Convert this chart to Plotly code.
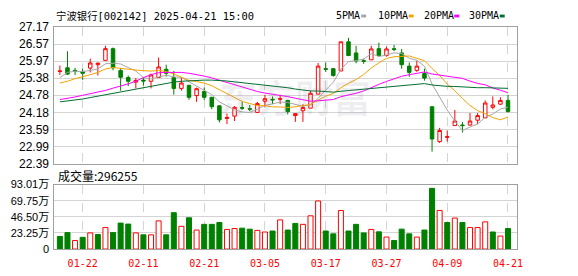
import numpy as np
import pandas as pd
import plotly.graph_objects as go

# ---------------- data ----------------
dates = [
    "2025-01-17", "2025-01-20", "2025-01-21", "2025-01-22", "2025-01-23", "2025-01-24", "2025-01-27",
    "2025-02-05", "2025-02-06", "2025-02-07", "2025-02-10", "2025-02-11",
    "2025-02-12", "2025-02-13", "2025-02-14", "2025-02-17", "2025-02-18", "2025-02-19", "2025-02-20", "2025-02-21",
    "2025-02-24", "2025-02-25", "2025-02-26", "2025-02-27", "2025-02-28",
    "2025-03-03", "2025-03-04", "2025-03-05",
    "2025-03-06", "2025-03-07", "2025-03-10", "2025-03-11", "2025-03-12", "2025-03-13", "2025-03-14", "2025-03-17",
    "2025-03-18", "2025-03-19", "2025-03-20", "2025-03-21", "2025-03-24", "2025-03-25", "2025-03-26", "2025-03-27",
    "2025-03-28", "2025-03-31", "2025-04-01", "2025-04-02", "2025-04-03",
    "2025-04-07", "2025-04-08", "2025-04-09",
    "2025-04-10", "2025-04-11", "2025-04-14", "2025-04-15", "2025-04-16", "2025-04-17", "2025-04-18", "2025-04-21",
]

opens = [25.61, 25.74, 25.65, 25.60, 25.73, 25.85, 26.00, 26.41, 25.65, 25.40,
         25.24, 25.31, 25.27, 25.40, 25.69, 25.40, 25.02, 25.13, 24.77, 24.91,
         24.71, 24.41, 23.97, 24.05, 24.35, 24.31, 24.18, 24.57, 24.64, 24.64,
         24.60, 24.07, 24.24, 24.33, 24.82, 25.71, 25.71, 25.63, 26.65, 26.26,
         25.99, 26.02, 26.41, 26.17, 26.41, 26.26, 25.80, 25.65, 25.54, 24.38,
         23.16, 23.31, 23.72, 23.74, 23.74, 23.91, 23.99, 24.36, 24.47, 24.60]
highs = [25.82, 26.32, 25.74, 25.71, 26.06, 25.93, 26.51, 26.45, 25.73, 25.47,
         25.38, 25.40, 25.54, 26.10, 25.85, 25.63, 25.38, 25.14, 25.05, 25.05,
         24.72, 24.44, 24.14, 24.40, 24.55, 24.44, 24.55, 24.80, 24.74, 24.80,
         24.62, 24.14, 24.47, 24.94, 25.91, 25.93, 25.73, 26.65, 26.79, 26.51,
         26.06, 26.51, 26.62, 26.48, 26.54, 26.40, 25.93, 25.99, 25.71, 24.38,
         23.64, 23.55, 24.27, 23.85, 24.16, 24.16, 24.60, 24.74, 24.71, 24.80]
lows = [25.49, 25.49, 25.49, 25.32, 25.58, 25.47, 26.00, 25.65, 24.94, 25.10,
        25.02, 25.12, 25.02, 25.38, 25.43, 24.80, 24.94, 24.62, 24.55, 24.62,
        24.29, 23.83, 23.77, 23.88, 24.27, 24.22, 24.16, 24.38, 24.47, 24.47,
        24.11, 23.85, 23.85, 24.33, 24.82, 25.60, 25.43, 25.63, 26.15, 25.90,
        25.88, 26.02, 26.13, 26.13, 26.32, 25.71, 25.43, 25.60, 25.29, 22.81,
        23.11, 23.16, 23.72, 23.48, 23.72, 23.77, 23.99, 24.29, 24.44, 24.18]
closes = [25.63, 25.52, 25.63, 25.55, 25.91, 25.90, 26.41, 25.74, 25.41, 25.27,
          25.30, 25.28, 25.49, 25.77, 25.55, 25.02, 25.21, 24.71, 25.01, 24.71,
          24.38, 23.92, 24.00, 24.36, 24.33, 24.29, 24.49, 24.66, 24.62, 24.66,
          24.21, 24.14, 24.35, 24.85, 25.80, 25.69, 25.47, 26.65, 26.17, 25.98,
          25.97, 26.40, 26.17, 26.40, 26.38, 25.85, 25.58, 25.80, 25.38, 23.25,
          23.55, 23.33, 23.88, 23.72, 23.88, 24.07, 24.51, 24.44, 24.60, 24.21]

# volume in 万 (10k shares); last value is the stated 296255
vol_wan = [18.2, 23.7, 12.3, 16.9, 23.3, 21.0, 31.0, 23.7, 37.4, 36.0,
           23.3, 20.5, 20.5, 40.6, 20.5, 52.4, 32.8, 45.1, 27.4, 35.6,
           35.6, 38.3, 28.3, 29.6, 30.1, 28.7, 26.9, 24.6, 26.0, 42.0,
           27.4, 36.9, 35.6, 47.9, 69.3, 26.0, 21.9, 55.6, 26.0, 35.6,
           23.3, 28.3, 24.8, 17.3, 12.3, 28.7, 21.9, 17.3, 27.4, 87.5,
           55.6, 38.3, 44.7, 38.3, 31.0, 31.0, 39.2, 24.6, 18.7, 29.6255]
# 1 = red (rise vs previous close), 0 = green
vol_rise = [0, 0, 1, 0, 1, 0, 1, 0, 0, 0,
            1, 0, 1, 1, 0, 0, 1, 0, 1, 0,
            0, 0, 1, 1, 0, 0, 1, 1, 0, 1,
            0, 0, 1, 1, 1, 0, 0, 1, 0, 0,
            0, 1, 0, 1, 0, 0, 0, 1, 0, 0,
            1, 0, 1, 0, 1, 1, 1, 0, 1, 0]

# moving-average values before the window is full
ma5_head = [25.40, 25.58, 25.62, 25.61]
ma10_head = [25.21, 25.27, 25.36, 25.42, 25.50, 25.58, 25.70, 25.75, 25.73]
ma20_head = [24.63, 24.67, 24.72, 24.78, 24.83, 24.88, 24.95, 25.03, 25.10, 25.18,
             25.27, 25.40, 25.50, 25.57, 25.58, 25.58, 25.58, 25.55, 25.51]
ma30_head = [24.55, 24.58, 24.61, 24.65, 24.70, 24.75, 24.80, 24.85, 24.90, 24.95,
             25.00, 25.06, 25.11, 25.16, 25.20, 25.24, 25.27, 25.29, 25.30, 25.31,
             25.31, 25.30, 25.28, 25.25, 25.22, 25.19, 25.16, 25.13, 25.11]

price_ticks = ["22.39", "22.99", "23.59", "24.18", "24.78", "25.38", "25.97", "26.57", "27.17"]
price_min, price_max = 22.39, 27.17
vol_ticks = ["0", "23.25万", "46.50万", "69.75万", "93.01万"]
vol_max = 930100
x_tick_dates = ["2025-01-22", "2025-02-11", "2025-02-21", "2025-03-05",
                "2025-03-17", "2025-03-27", "2025-04-09", "2025-04-21"]
x_tick_text = [d[5:] for d in x_tick_dates]

title_text = "宁波银行[002142] 2025-04-21 15:00"
vol_title = "成交量:296255"
ma_names = ["5PMA", "10PMA", "20PMA", "30PMA"]

# ---------------- derived ----------------
cs = pd.Series(closes)


def moving_avg(n, head):
    m = cs.rolling(n).mean().tolist()
    m[:len(head)] = head
    return m


mas = [moving_avg(5, ma5_head), moving_avg(10, ma10_head),
       moving_avg(20, ma20_head), moving_avg(30, ma30_head)]
ma_colors = ["#A6A6A6", "#F5A300", "#FF00FF", "#006F2E"]

volumes = [v * 10000 for v in vol_wan]
RED, GREEN = "#FF0000", "#008000"
vol_fill = ["#FFFFFF" if r else GREEN for r in vol_rise]
vol_line = [RED if r else GREEN for r in vol_rise]

# ---------------- figure ----------------
W, H = 578, 276
L, R = 55, 522
PT, PB = 21, 165
VT, VB = 187, 255


def px_x(x):
    return x / W


def px_y(y):
    return 1 - y / H


fig = go.Figure()
fig.add_trace(go.Candlestick(
    x=dates, open=opens, high=highs, low=lows, close=closes,
    increasing=dict(line=dict(color=RED, width=1), fillcolor="#FFFFFF"),
    decreasing=dict(line=dict(color=GREEN, width=1), fillcolor=GREEN),
    whiskerwidth=0, xaxis="x", yaxis="y", hoverinfo="skip", showlegend=False,
))
for m, c, nm in zip(mas, ma_colors, ma_names):
    fig.add_trace(go.Scatter(x=dates, y=m, mode="lines", line=dict(color=c, width=1),
                             name=nm, xaxis="x", yaxis="y", hoverinfo="skip", showlegend=False))
fig.add_trace(go.Bar(
    x=dates, y=volumes, width=0.66,
    marker=dict(color=vol_fill, line=dict(color=vol_line, width=1)),
    xaxis="x2", yaxis="y2", hoverinfo="skip", showlegend=False,
))

xr = [-0.717, 60.13]
frame = "#A0A0A0"
grid = "#D4D4D4"
common_x = dict(type="category", range=xr, showgrid=True, gridcolor=grid, griddash="dash",
                gridwidth=1, showline=True, mirror=True, linecolor=frame, linewidth=1,
                zeroline=False, tickmode="array", tickvals=x_tick_dates, ticks="",
                fixedrange=True, domain=[px_x(L), px_x(R)])

fig.update_layout(
    width=W, height=H, autosize=False,
    margin=dict(l=0, r=0, t=0, b=0, pad=0),
    paper_bgcolor="#FFFFFF", plot_bgcolor="#FFFFFF",
    boxgap=0.34,
    showlegend=False,
    xaxis=dict(**common_x, anchor="y", showticklabels=False, rangeslider=dict(visible=False)),
    xaxis2=dict(**common_x, anchor="y2", matches="x", showticklabels=True, ticktext=x_tick_text,
                tickfont=dict(family="DejaVu Sans Mono", size=10, color=RED), ticklabelstandoff=5),
    yaxis=dict(domain=[px_y(PB), px_y(PT)], range=[price_min, price_max],
               tickmode="array", tickvals=list(np.linspace(price_min, price_max, 9)),
               ticktext=price_ticks, showgrid=True, gridcolor=grid, gridwidth=1,
               showline=True, mirror=True, linecolor=frame, zeroline=False, ticks="",
               tickfont=dict(family="Liberation Sans", size=12, color="#000000"),
               ticklabelstandoff=2, fixedrange=True),
    yaxis2=dict(domain=[px_y(VB), px_y(VT)], range=[0, vol_max],
                tickmode="array", tickvals=list(np.linspace(0, vol_max, 5)),
                ticktext=vol_ticks, showgrid=True, gridcolor=grid, gridwidth=1,
                showline=True, mirror=True, linecolor=frame, zeroline=False, ticks="",
                tickfont=dict(family="Liberation Sans, Noto Sans CJK SC", size=11, color="#000000"),
                ticklabelstandoff=2, fixedrange=True),
)

ann = []
ann.append(dict(text=title_text, x=px_x(55), y=px_y(9), xref="paper", yref="paper",
                xanchor="left", yanchor="middle", showarrow=False,
                font=dict(family="DejaVu Sans Mono, Noto Sans CJK SC", size=10.4, color="#000000")))
ann.append(dict(text=vol_title, x=px_x(57), y=px_y(177), xref="paper", yref="paper",
                xanchor="left", yanchor="middle", showarrow=False,
                font=dict(family="Noto Sans CJK SC", size=12, color="#000000")))
ann.append(dict(text="<b>东方财富</b>", x=px_x(298), y=px_y(93), xref="paper", yref="paper",
                xanchor="center", yanchor="middle", showarrow=False,
                font=dict(family="Noto Sans CJK SC", size=38, color="rgba(120,120,150,0.13)")))

leg_x = [338, 380, 426, 472]
shapes = []
for nm, c, lx in zip(ma_names, ma_colors, leg_x):
    ann.append(dict(text=nm, x=px_x(lx), y=px_y(9), xref="paper", yref="paper",
                    xanchor="left", yanchor="middle", showarrow=False,
                    font=dict(family="DejaVu Sans Mono", size=10, color="#000000")))
    sx = lx + 6 * len(nm) + 3
    shapes.append(dict(type="rect", xref="paper", yref="paper",
                       x0=px_x(sx), x1=px_x(sx + 5), y0=px_y(11), y1=px_y(8),
                       fillcolor=c, line=dict(width=0)))
fig.update_layout(annotations=ann, shapes=shapes)

fig.write_html("out.html")
